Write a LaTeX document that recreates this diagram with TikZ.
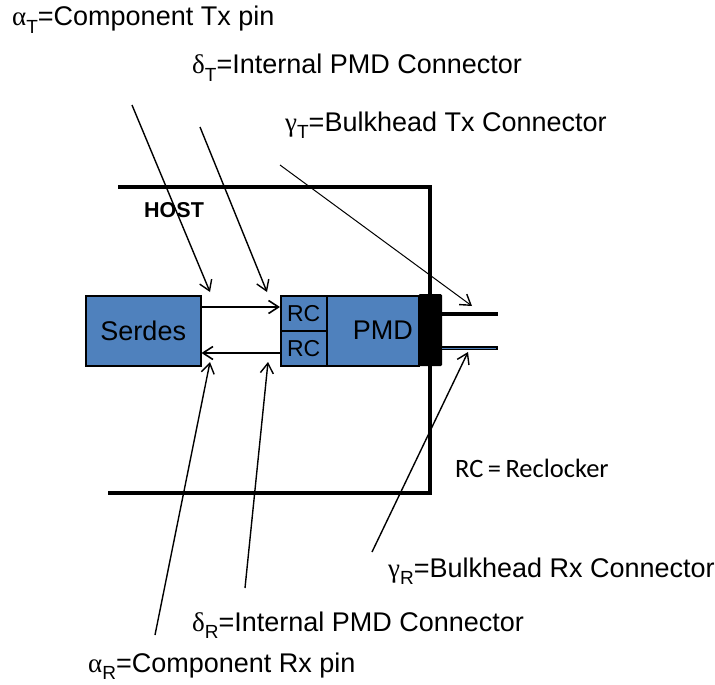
\documentclass[tikz,border=0pt]{standalone}
\usepackage{fontspec}
\setmainfont{Liberation Sans}
\newfontfamily\grkfont{Liberation Serif}
\newfontfamily\calfont{Carlito}
\usetikzlibrary{arrows.meta}
\definecolor{boxblue}{HTML}{4F81BD}
\newcommand\sbs[1]{\raisebox{-0.27em}{\fontsize{19}{19}\selectfont #1}}
\begin{document}
\begin{tikzpicture}[x=1pt,y=-1pt,
  lbl/.style={anchor=base west,inner sep=0,font=\fontsize{27}{30}\selectfont},
  blk/.style={draw=black,line width=1.5pt,fill=boxblue,inner sep=0,anchor=north west},
  frame/.style={line width=3.5pt},
  ptr/.style={line width=1.4pt,-{Straight Barb[length=10pt,width=13pt,line width=1.4pt]}},
  sig/.style={line width=1.6pt,-{Straight Barb[length=10pt,width=13pt,line width=1.6pt]}}]
\useasboundingbox (0,0) rectangle (715,685);
% frame
\draw[frame] (118,187) -- (430,187) -- (430,493) -- (108,493);
\node[anchor=base west,inner sep=0,font=\fontsize{21.5}{24}\selectfont\bfseries] (host) at (144,217) {HOST};
% boxes
\node[blk,minimum width=115pt,minimum height=70pt,font=\fontsize{27}{30}\selectfont] (serdes) at (85,295) {Serdes};
\node[blk,minimum width=92pt,minimum height=70pt] (pmd) at (326,295) {};
\node[anchor=east,inner sep=0,font=\fontsize{27}{30}\selectfont] (pmdt) at (413,330) {PMD};
\node[blk,minimum width=46pt,minimum height=35pt,font=\fontsize{23}{26}\selectfont] (rct) at (280,295) {RC};
\node[blk,minimum width=46pt,minimum height=35pt,font=\fontsize{23}{26}\selectfont] (rcb) at (280,330) {RC};
% connector block
\node[fill=black,rounded corners=1.5pt,minimum width=24pt,minimum height=72pt,inner sep=0,anchor=north west] (blkh) at (418,294) {};
% fibres
\coordinate (ft) at (498,314);
\coordinate (fb) at (498,348);
\draw[line width=4.5pt] (blkh.east |- ft) -- (ft);
\draw[line width=4.5pt] (blkh.east |- fb) -- (fb);
\draw[line width=1pt,boxblue] (blkh.east |- fb) -- ([xshift=-2pt]fb);
% signal arrows
\draw[sig] (serdes.east |- 0,307) -- (rct.west |- 0,307);
\draw[sig] (rcb.west |- 0,353) -- (serdes.east |- 0,353);
% labels
\node[lbl] (aT) at (12,26) {{\grkfont α}\sbs{T}=Component Tx pin};
\node[lbl] (dT) at (192,74) {{\grkfont δ}\sbs{T}=Internal PMD Connector};
\node[lbl] (gT) at (285,131) {{\grkfont γ}\sbs{T}=Bulkhead Tx Connector};
\node[lbl] (gR) at (388,577) {{\grkfont γ}\sbs{R}=Bulkhead Rx Connector};
\node[lbl] (dR) at (192,631) {{\grkfont δ}\sbs{R}=Internal PMD Connector};
\node[lbl] (aR) at (88,672) {{\grkfont α}\sbs{R}=Component Rx pin};
\node[anchor=base west,inner sep=0,font=\calfont\fontsize{26.5}{29}\selectfont] (rcdef) at (455,477) {RC\,=\,Reclocker};
% pointer arrows
\coordinate (aTs) at (132,105);
\coordinate (aTe) at (210,292);
\coordinate (dTs) at (200,127);
\coordinate (dTe) at (267,292);
\coordinate (gTs) at (280,165);
\coordinate (gTe) at (472,306);
\coordinate (aRs) at (155,635);
\coordinate (aRe) at (210,362);
\coordinate (dRs) at (245,588);
\coordinate (dRe) at (268,362);
\coordinate (gRs) at (372,552);
\coordinate (gRe) at (468,352);
\draw[ptr] (aTs) -- (aTe);
\draw[ptr] (dTs) -- (dTe);
\draw[ptr,line width=1pt] (gTs) -- (gTe);
\draw[ptr] (aRs) -- (aRe);
\draw[ptr] (dRs) -- (dRe);
\draw[ptr] (gRs) -- (gRe);
\end{tikzpicture}
\end{document}
